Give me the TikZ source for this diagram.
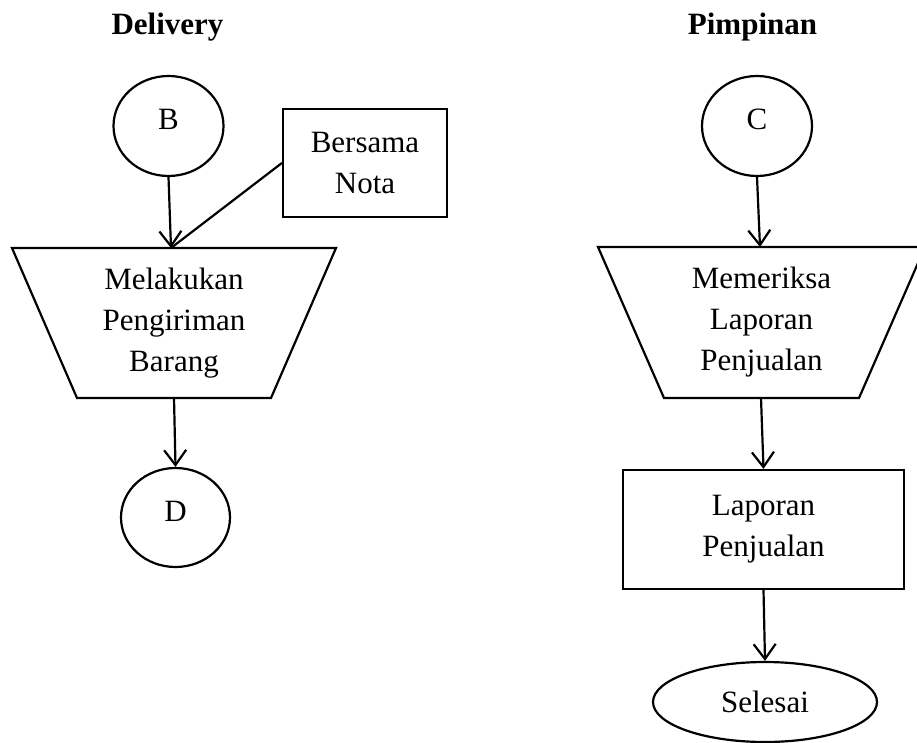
\documentclass[tikz,border=0pt]{standalone}
\usepackage{fontspec}
\setmainfont{Liberation Serif}
\usetikzlibrary{shapes.geometric,arrows.meta}

\tikzset{
  x=1pt, y=-1pt,
  every node/.style={font=\fontsize{31}{41}\selectfont, align=center, inner sep=0pt},
  line/.style={line width=2.2pt, black},
  flow/.style={line, -{Straight Barb[length=15pt,width=22pt,line width=2.2pt]}},
  title/.style={font=\bfseries\fontsize{31}{41}\selectfont, anchor=base},
  connector/.style={ellipse, draw, line, minimum width=110pt, minimum height=100pt, text depth=13pt},
  terminal/.style={ellipse, draw, line, minimum width=224pt, minimum height=80pt},
  docbox/.style={rectangle, draw, line},
  manual/.style={line, fill=white}
}

\begin{document}
\begin{tikzpicture}
\useasboundingbox (0,0) rectangle (917,743);

% ---- Delivery lane ----
\node[title] (tdel) at (167.5,35) {Delivery};
\node[connector] (B) at (168.5,126) {B};
\node[docbox, minimum width=164pt, minimum height=108pt] (nota) at (365,163) {Bersama\\Nota};

\draw[manual] (12,248) -- (336,248) -- (271,398) -- (77,398) -- cycle;
\node (kirim) at (174,323) {Melakukan\\Pengiriman\\Barang};
\coordinate (kirimtop) at (171,248);
\coordinate (kirimbot) at (174,398);

\node[connector, minimum width=109pt, minimum height=99pt] (D) at (175.5,517.5) {D};

\draw[flow] (B.south) -- (kirimtop);
\draw[line] (nota.west) -- (kirimtop);
\draw[flow] (kirimbot) -- (D.north);

% ---- Pimpinan lane ----
\node[title] (tpim) at (752.5,35) {Pimpinan};
\node[connector] (C) at (757,126) {C};

\draw[manual] (598,247) -- (925,247) -- (859,398) -- (664,398) -- cycle;
\node (periksa) at (761.5,322) {Memeriksa\\Laporan\\Penjualan};
\coordinate (periksatop) at (760,247);
\coordinate (periksabot) at (761,398);

\node[docbox, minimum width=281pt, minimum height=119pt] (lap) at (763.5,529.5) {Laporan\\Penjualan};
\node[terminal] (end) at (765,702) {Selesai};

\draw[flow] (C.south) -- (periksatop);
\draw[flow] (periksabot) -- (lap.north);
\draw[flow] (lap.south) -- (end.north);
\end{tikzpicture}
\end{document}
